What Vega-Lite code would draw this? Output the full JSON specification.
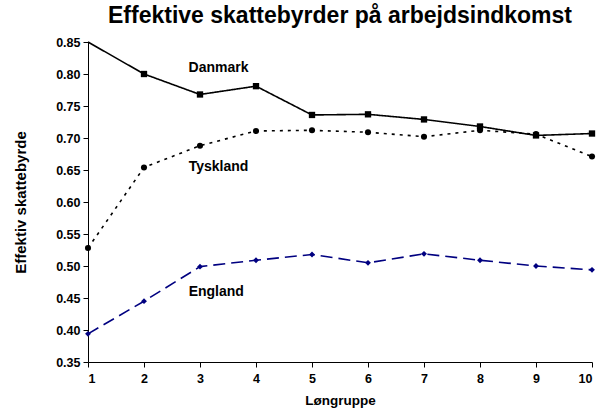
{
  "$schema": "https://vega.github.io/schema/vega-lite/v6.json",
  "width": 504,
  "height": 320,
  "autosize": "none",
  "padding": {"left": 88, "top": 42, "right": 10, "bottom": 54},
  "background": "white",
  "title": {
    "text": "Effektive skattebyrder på arbejdsindkomst",
    "font": "Liberation Sans",
    "fontSize": 23,
    "fontWeight": "bold",
    "color": "black",
    "anchor": "middle",
    "offset": 8
  },
  "config": {
    "view": {"stroke": null},
    "axis": {
      "labelFont": "Liberation Sans",
      "labelFontSize": 12.5,
      "labelFontWeight": "bold",
      "labelColor": "black",
      "titleFont": "Liberation Sans",
      "titleFontSize": 13.5,
      "titleFontWeight": "bold",
      "titleColor": "black",
      "domainColor": "black",
      "tickColor": "black",
      "grid": false
    }
  },
  "datasets": {
    "series": [
      {"g": 1, "country": "Danmark", "v": 0.85},
      {"g": 2, "country": "Danmark", "v": 0.800},
      {"g": 3, "country": "Danmark", "v": 0.768},
      {"g": 4, "country": "Danmark", "v": 0.781},
      {"g": 5, "country": "Danmark", "v": 0.736},
      {"g": 6, "country": "Danmark", "v": 0.737},
      {"g": 7, "country": "Danmark", "v": 0.729},
      {"g": 8, "country": "Danmark", "v": 0.718},
      {"g": 9, "country": "Danmark", "v": 0.704},
      {"g": 10, "country": "Danmark", "v": 0.707},
      {"g": 1, "country": "Tyskland", "v": 0.528},
      {"g": 2, "country": "Tyskland", "v": 0.654},
      {"g": 3, "country": "Tyskland", "v": 0.688},
      {"g": 4, "country": "Tyskland", "v": 0.711},
      {"g": 5, "country": "Tyskland", "v": 0.712},
      {"g": 6, "country": "Tyskland", "v": 0.709},
      {"g": 7, "country": "Tyskland", "v": 0.702},
      {"g": 8, "country": "Tyskland", "v": 0.712},
      {"g": 9, "country": "Tyskland", "v": 0.706},
      {"g": 10, "country": "Tyskland", "v": 0.671},
      {"g": 1, "country": "England", "v": 0.394},
      {"g": 2, "country": "England", "v": 0.445},
      {"g": 3, "country": "England", "v": 0.499},
      {"g": 4, "country": "England", "v": 0.509},
      {"g": 5, "country": "England", "v": 0.518},
      {"g": 6, "country": "England", "v": 0.505},
      {"g": 7, "country": "England", "v": 0.519},
      {"g": 8, "country": "England", "v": 0.509},
      {"g": 9, "country": "England", "v": 0.500},
      {"g": 10, "country": "England", "v": 0.494}
    ],
    "labels": [
      {"g": 3.33, "v": 0.809, "label": "Danmark"},
      {"g": 3.33, "v": 0.655, "label": "Tyskland"},
      {"g": 3.29, "v": 0.459, "label": "England"}
    ]
  },
  "encoding": {
    "x": {
      "field": "g",
      "type": "quantitative",
      "scale": {"domain": [1, 10], "nice": false, "zero": false},
      "axis": {"title": "Løngruppe", "values": [1,2,3,4,5,6,7,8,9,10], "tickSize": 5, "labelPadding": 5, "titlePadding": 9, "format": "d"}
    },
    "y": {
      "field": "v",
      "type": "quantitative",
      "scale": {"domain": [0.35, 0.85], "nice": false, "zero": false},
      "axis": {"title": "Effektiv skattebyrde", "titleColor": "black", "titleFontSize": 15, "values": [0.35,0.4,0.45,0.5,0.55,0.6,0.65,0.7,0.75,0.8,0.85], "format": ".2f", "tickSize": 5, "labelPadding": 3, "titlePadding": 27}
    }
  },
  "layer": [
    {
      "data": {"name": "series"},
      "mark": {"type": "line", "strokeWidth": 1.6},
      "encoding": {
        "detail": {"field": "country"},
        "color": {"field": "country", "type": "nominal", "scale": {"domain": ["Danmark", "Tyskland", "England"], "range": ["#000000", "#000000", "#000080"]}, "legend": null},
        "strokeDash": {"field": "country", "type": "nominal", "scale": {"domain": ["Danmark", "Tyskland", "England"], "range": [[1, 0], [3, 5], [12, 6]]}, "legend": null}
      }
    },
    {
      "data": {"name": "series"},
      "transform": [{"filter": "datum.country != 'Danmark' || datum.g > 1"}],
      "mark": {"type": "point", "filled": true, "opacity": 1},
      "encoding": {
        "color": {"field": "country", "type": "nominal", "scale": {"domain": ["Danmark", "Tyskland", "England"], "range": ["#000000", "#000000", "#000080"]}, "legend": null},
        "shape": {"field": "country", "type": "nominal", "scale": {"domain": ["Danmark", "Tyskland", "England"], "range": ["square", "circle", "diamond"]}, "legend": null},
        "size": {"field": "country", "type": "nominal", "scale": {"domain": ["Danmark", "Tyskland", "England"], "range": [40, 34, 45]}, "legend": null}
      }
    },
    {
      "data": {"name": "labels"},
      "mark": {"type": "text", "font": "Liberation Sans", "fontSize": 14, "fontWeight": "bold", "color": "black", "align": "center", "baseline": "middle"},
      "encoding": {
        "text": {"field": "label"}
      }
    }
  ]
}
